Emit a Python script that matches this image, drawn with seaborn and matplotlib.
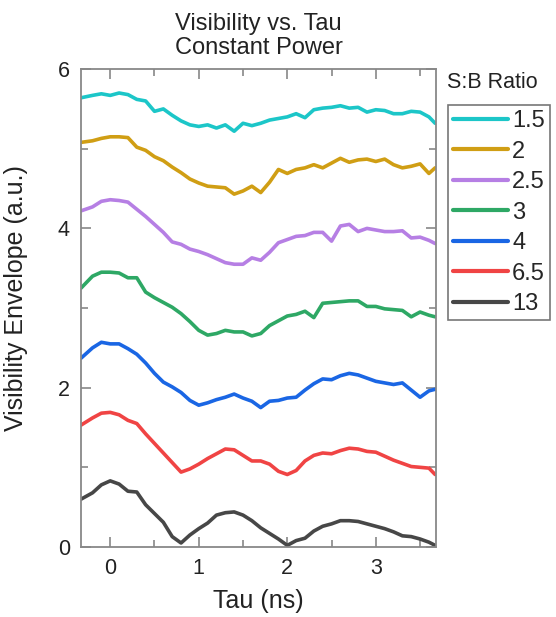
import numpy as np
import pandas as pd
import matplotlib
matplotlib.use("Agg")
import matplotlib.pyplot as plt
import seaborn as sns
from matplotlib.ticker import MultipleLocator

# 시간축 (ns)
tau = [-0.33, -0.2, -0.1, 0.0, 0.1, 0.2, 0.3, 0.4, 0.5, 0.6, 0.7, 0.8, 0.9,
       1.0, 1.1, 1.2, 1.3, 1.4, 1.5, 1.6, 1.7, 1.8, 1.9, 2.0, 2.1, 2.2, 2.3,
       2.4, 2.5, 2.6, 2.7, 2.8, 2.9, 3.0, 3.1, 3.2, 3.3, 3.4, 3.5, 3.6, 3.67]

ratios = ["1.5", "2", "2.5", "3", "4", "6.5", "13"]

v_1_5 = [5.64, 5.67, 5.69, 5.67, 5.70, 5.68, 5.62, 5.60, 5.47, 5.50, 5.42, 5.35, 5.30,
         5.28, 5.30, 5.26, 5.30, 5.22, 5.32, 5.29, 5.32, 5.36, 5.38, 5.40, 5.44, 5.39, 5.49,
         5.51, 5.52, 5.54, 5.51, 5.52, 5.46, 5.49, 5.48, 5.44, 5.44, 5.47, 5.46, 5.40, 5.32]
v_2 = [5.08, 5.10, 5.13, 5.15, 5.15, 5.14, 5.02, 4.98, 4.90, 4.85, 4.77, 4.70, 4.62,
       4.57, 4.53, 4.52, 4.51, 4.43, 4.47, 4.53, 4.45, 4.58, 4.74, 4.69, 4.74, 4.76, 4.80,
       4.76, 4.82, 4.88, 4.83, 4.86, 4.87, 4.84, 4.87, 4.80, 4.76, 4.78, 4.81, 4.69, 4.76]
v_2_5 = [4.22, 4.27, 4.34, 4.36, 4.35, 4.33, 4.24, 4.15, 4.05, 3.95, 3.83, 3.80, 3.74,
         3.71, 3.67, 3.62, 3.57, 3.55, 3.55, 3.63, 3.60, 3.70, 3.82, 3.86, 3.90, 3.91, 3.95,
         3.95, 3.84, 4.03, 4.05, 3.96, 4.00, 3.98, 3.96, 3.96, 3.97, 3.88, 3.89, 3.85, 3.81]
v_3 = [3.25, 3.40, 3.45, 3.45, 3.44, 3.38, 3.38, 3.20, 3.13, 3.07, 3.01, 2.93, 2.83,
       2.72, 2.66, 2.68, 2.72, 2.70, 2.70, 2.65, 2.68, 2.78, 2.84, 2.90, 2.92, 2.96, 2.88,
       3.06, 3.07, 3.08, 3.09, 3.09, 3.02, 3.02, 2.99, 2.98, 2.97, 2.89, 2.95, 2.91, 2.89]
v_4 = [2.37, 2.50, 2.57, 2.55, 2.55, 2.49, 2.42, 2.31, 2.18, 2.07, 2.01, 1.94, 1.84,
       1.78, 1.81, 1.85, 1.88, 1.92, 1.87, 1.83, 1.75, 1.83, 1.84, 1.87, 1.88, 1.97, 2.05,
       2.11, 2.10, 2.15, 2.18, 2.16, 2.12, 2.08, 2.06, 2.04, 2.06, 1.97, 1.88, 1.96, 1.98]
v_6_5 = [1.53, 1.62, 1.68, 1.69, 1.66, 1.59, 1.55, 1.42, 1.30, 1.18, 1.06, 0.94, 0.98,
         1.04, 1.11, 1.17, 1.23, 1.22, 1.15, 1.08, 1.08, 1.04, 0.95, 0.91, 0.96, 1.08, 1.15,
         1.18, 1.17, 1.21, 1.24, 1.23, 1.20, 1.19, 1.14, 1.09, 1.05, 1.01, 1.00, 0.99, 0.91]
v_13 = [0.60, 0.68, 0.78, 0.83, 0.79, 0.70, 0.69, 0.53, 0.42, 0.31, 0.13, 0.05, 0.15,
        0.23, 0.30, 0.40, 0.43, 0.44, 0.40, 0.33, 0.24, 0.17, 0.10, 0.02, 0.08, 0.11, 0.20,
        0.26, 0.29, 0.33, 0.33, 0.32, 0.29, 0.26, 0.23, 0.19, 0.14, 0.13, 0.10, 0.06, 0.02]

colors = ["#1cc6c8", "#d09e14", "#b67fe4", "#2ea865", "#1a66e4", "#f04444", "#474747"]

# long-form 데이터프레임 만들기
series = [v_1_5, v_2, v_2_5, v_3, v_4, v_6_5, v_13]
df = pd.concat([pd.DataFrame({"tau": tau, "vis": s, "ratio": r})
                for r, s in zip(ratios, series)], ignore_index=True)

sns.set_style("ticks")
plt.rcParams["font.family"] = ["Liberation Sans", "DejaVu Sans"]

fig = plt.figure(figsize=(5.56, 6.17), dpi=100)
ax = fig.add_axes([0.1457, 0.1135, 0.6385, 0.7745])

sns.lineplot(data=df, x="tau", y="vis", hue="ratio", hue_order=ratios,
             palette=dict(zip(ratios, colors)), linewidth=2.6, legend=False,
             sort=False, ax=ax)

ax.set_xlim(-0.33, 3.68)
ax.set_ylim(0, 6)
ax.xaxis.set_major_locator(MultipleLocator(1))
ax.xaxis.set_minor_locator(MultipleLocator(0.5))
ax.yaxis.set_major_locator(MultipleLocator(2))
ax.yaxis.set_minor_locator(MultipleLocator(1))

gray = "#888888"
for sp in ax.spines.values():
    sp.set_visible(True)
    sp.set_color(gray)
    sp.set_linewidth(1.3)
ax.tick_params(which="both", direction="in", top=True, right=True,
               color=gray, width=1.2, labelsize=15.5, labelcolor="#222222", pad=8)
ax.tick_params(which="major", length=7)
ax.tick_params(which="minor", length=5)

ax.set_xlabel("Tau (ns)", fontsize=18, color="#222222", labelpad=7)
ax.set_ylabel("Visibility Envelope (a.u.)", fontsize=18, color="#222222", labelpad=13)
ax.yaxis.set_label_coords(-0.148, 0.52)
ax.set_title("Visibility vs. Tau\nConstant Power", fontsize=17, color="#222222",
             pad=11, linespacing=1.1)

# 범례 (제목은 상자 밖에)
handles = ax.get_lines()[:len(ratios)]
leg = fig.legend(handles, ratios, loc="upper left",
                 bbox_to_anchor=(448 / 556, 1 - 105 / 617), fontsize=17,
                 frameon=True, fancybox=False, handlelength=2.3,
                 handletextpad=0.2, labelspacing=0.36, borderpad=0.22,
                 borderaxespad=0)
leg.get_frame().set_edgecolor("#555555")
leg.get_frame().set_linewidth(1.2)
for ln in leg.get_lines():
    ln.set_linewidth(3)
fig.text(447 / 556, 1 - 83 / 617, "S:B Ratio", fontsize=15.5, color="#222222",
         va="center", ha="left")

fig.savefig("out.png", dpi=100)
